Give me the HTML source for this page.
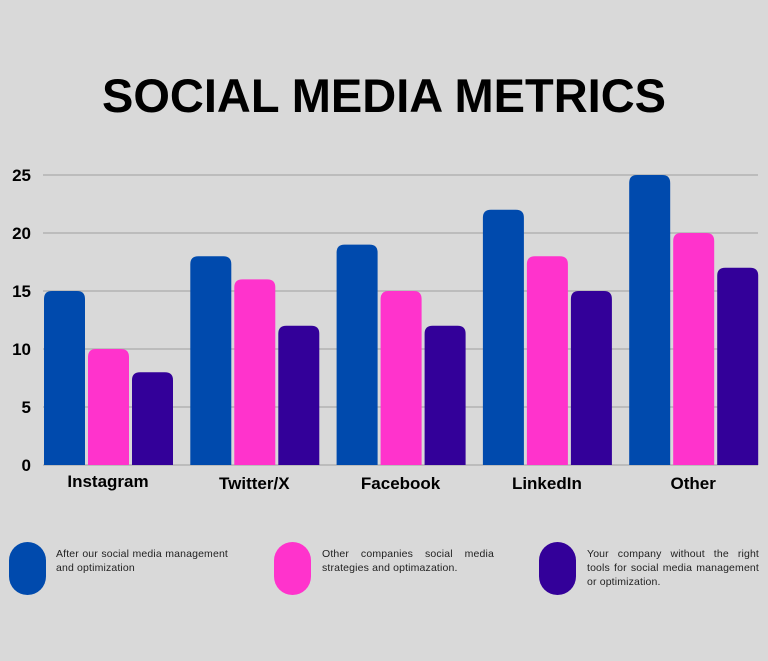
<!DOCTYPE html>
<html><head><meta charset="utf-8"><style>
body{margin:0;background:#d9d9d9;width:768px;height:661px;overflow:hidden;font-family:"Liberation Sans",sans-serif;position:relative}
.t{position:absolute;left:0;width:768px;text-align:center;top:68px;font-size:47px;font-weight:bold;color:#000;letter-spacing:0px}
.lg{position:absolute;font-size:10.5px;line-height:14px;color:#222;text-align:justify;width:172px;letter-spacing:0.15px}
.pill{position:absolute;width:37px;height:53px;border-radius:19px}
</style></head><body>
<div class="t">SOCIAL MEDIA METRICS</div>
<svg id="c" width="768" height="500" style="position:absolute;left:0;top:0"></svg>
<div class="pill" style="left:9px;top:542px;background:#004aad"></div>
<div class="lg" style="left:56px;top:547px">After our social media management and optimization</div>
<div class="pill" style="left:274px;top:542px;background:#ff33cc"></div>
<div class="lg" style="left:322px;top:547px">Other companies social media strategies and optimazation.</div>
<div class="pill" style="left:539px;top:542px;background:#330099"></div>
<div class="lg" style="left:587px;top:547px">Your company without the right tools for social media management or optimization.</div>
<script>
const categories=["Instagram","Twitter/X","Facebook","LinkedIn","Other"];
const afterVals=[15,18,19,22,25];
const otherVals=[10,16,15,18,20];
const withoutVals=[8,12,12,15,17];
const yTicks=[0,5,10,15,20,25];
const colors=["#004aad","#ff33cc","#330099"];
const svg=document.getElementById('c');const NS="http://www.w3.org/2000/svg";
const y0=465,y1=175,vmax=25;
const y=v=>y0-(y0-y1)*v/vmax;
const gx=i=>44+i*146.3;
function mk(t,a){const e=document.createElementNS(NS,t);for(const k in a)e.setAttribute(k,a[k]);svg.appendChild(e);return e;}
yTicks.forEach(v=>{
 const l=mk('line',{x1:43,x2:758,y1:y(v),y2:y(v),stroke:'#aaa','stroke-width':1.3});
 
 
 const t=mk('text',{x:31,y:y(v)+6,'text-anchor':'end','font-size':17,'font-weight':'bold','font-family':'Liberation Sans'});
 t.textContent=v;
 
 
});
[afterVals,otherVals,withoutVals].forEach((s,si)=>{
 s.forEach((v,i)=>{
  const x=gx(i)+si*44,w=41,top=y(v),r=8;
  const p=mk('path',{d:`M${x},${y0}V${top+r}Q${x},${top} ${x+r},${top}H${x+w-r}Q${x+w},${top} ${x+w},${top+r}V${y0}Z`,fill:colors[si]});
  
  
 });
});
categories.forEach((c,i)=>{
 const t=mk('text',{x:gx(i)+64,y:i==0?487:489,'text-anchor':'middle','font-size':17,'font-weight':'bold','font-family':'Liberation Sans'});
 t.textContent=c;
 
 
});
</script>
</body></html>
